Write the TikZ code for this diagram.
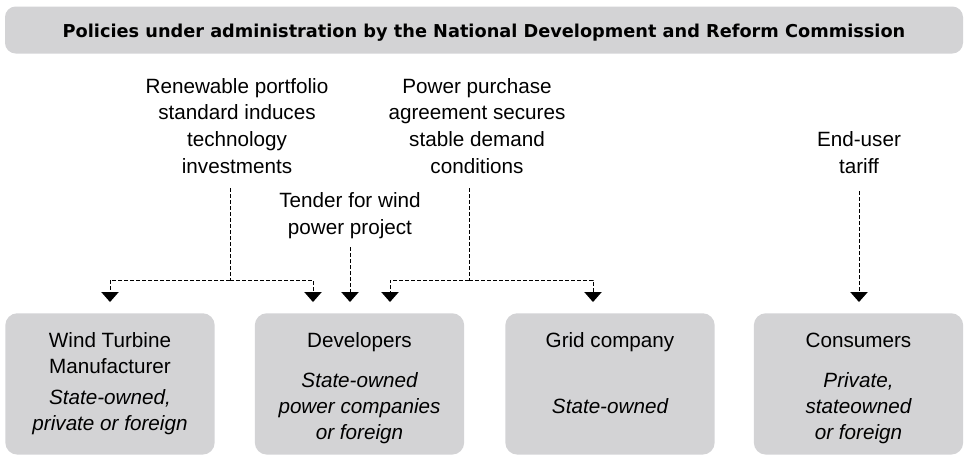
\documentclass[tikz,border=0pt]{standalone}
\usepackage{fontspec}
\setmainfont{Liberation Sans}
\newfontfamily\titlefont{DejaVu Sans}
\usetikzlibrary{arrows.meta,calc}
\definecolor{panelgray}{HTML}{D3D3D5}
\begin{document}
\begin{tikzpicture}[x=0.75pt,y=-0.75pt,
  panel/.style={fill=panelgray, rounded corners=9pt, inner sep=0pt,
    minimum width=157pt, minimum height=106pt, anchor=north},
  banner/.style={fill=panelgray, rounded corners=8pt, inner sep=0pt,
    minimum width=718.5pt, minimum height=35.25pt,
    text height=10.5pt, text depth=0pt,
    font=\titlefont\fontsize{13.3}{16}\selectfont\bfseries},
  label/.style={align=center, inner sep=0pt, anchor=base,
    font=\fontsize{15.5}{20}\selectfont},
  head/.style={align=center, inner sep=0pt, anchor=base,
    font=\fontsize{15.5}{19.5}\selectfont},
  body/.style={align=center, inner sep=0pt, anchor=base,
    font=\fontsize{15.5}{19.5}\selectfont\itshape},
  feed/.style={dash pattern=on 3pt off 1.5pt, line width=0.75pt},
  flow/.style={feed, -{Triangle[width=13pt,length=7.5pt]}}
]
\useasboundingbox (0,0) rectangle (964,455);

% policy banner
\node[banner] (ndrc) at (484,30)
  {Policies under administration by the National Development and Reform Commission};

% actors
\node[panel] (wtm)  at (110,313)   {};
\node[panel] (dev)  at (359.5,313) {};
\node[panel] (grid) at (610,313)   {};
\node[panel] (cons) at (858.5,313) {};

% actor names (base = last baseline) and ownership
\node[head] (wtmH)  at ($(wtm.north)+(0,60)$)   {Wind Turbine\\Manufacturer};
\node[body] (wtmB)  at ($(wtm.north)+(0,117)$)  {State-owned,\\private or foreign};
\node[head] (devH)  at ($(dev.north)+(0,34)$)   {Developers};
\node[body] (devB)  at ($(dev.north)+(0,126)$)  {State-owned\\power companies\\or foreign};
\node[head] (gridH) at ($(grid.north)+(0,34)$)  {Grid company};
\node[body] (gridB) at ($(grid.north)+(0,100)$) {State-owned};
\node[head] (consH) at ($(cons.north)+(0,34)$)  {Consumers};
\node[body] (consB) at ($(cons.north)+(0,126)$) {Private,\\stateowned\\or foreign};

% policy instruments
\node[label] (rps)    at (237,173) {Renewable portfolio\\standard induces\\technology\\investments};
\node[label] (ppa)    at (477,173) {Power purchase\\agreement secures\\stable demand\\conditions};
\node[label] (tender) at (350,234) {Tender for wind\\power project};
\node[label] (tariff) at (859,173) {End-user\\tariff};

% junctions and arrow targets
\coordinate (rpsJ) at (230,280);
\coordinate (ppaJ) at (469,280);
\coordinate (tWtm)  at ($(wtm.north)+(0,-11)$);
\coordinate (tDevA) at ($(dev.north)+(-46.5,-11)$);
\coordinate (tDevB) at ($(dev.north)+(-9.5,-11)$);
\coordinate (tDevC) at ($(dev.north)+(30.5,-11)$);
\coordinate (tGrid) at ($(grid.north)+(-17,-11)$);
\coordinate (tCons) at ($(cons.north)+(0.5,-11)$);

% connectors
\draw[feed] ([yshift=-11pt]rps.south -| rpsJ) -- (rpsJ);
\draw[flow] (rpsJ) -| (tWtm);
\draw[flow] (rpsJ) -| (tDevA);
\draw[feed] ([yshift=-11pt]ppa.south -| ppaJ) -- (ppaJ);
\draw[flow] (ppaJ) -| (tDevC);
\draw[flow] (ppaJ) -| (tGrid);
\draw[flow] ([yshift=-6.5pt]tender.south) -- (tDevB);
\draw[flow] ([yshift=-13.5pt]tariff.south) -- (tCons);
\end{tikzpicture}
\end{document}
